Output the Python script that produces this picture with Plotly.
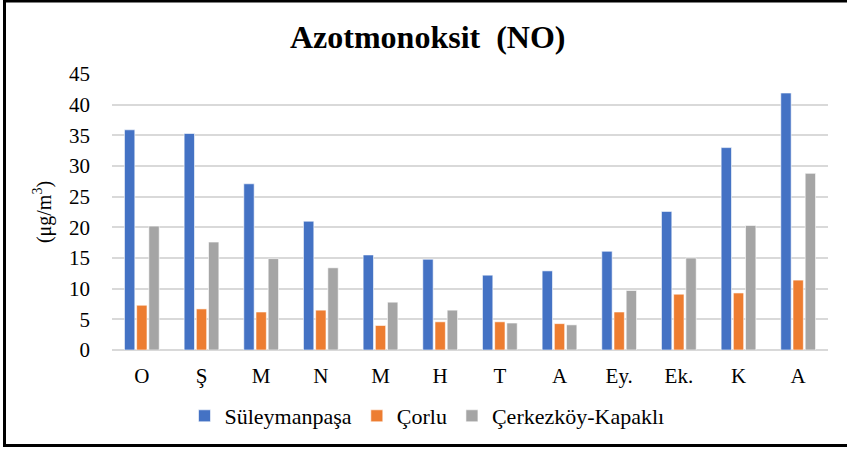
import plotly.graph_objects as go

months = ["O", "Ş", "M", "N", "M", "H", "T", "A", "Ey.", "Ek.", "K", "A"]
suleymanpasa = [35.9, 35.3, 27.1, 21.0, 15.5, 14.8, 12.2, 12.9, 16.1, 22.6, 33.0, 41.9]
corlu = [7.3, 6.7, 6.2, 6.5, 4.0, 4.6, 4.6, 4.3, 6.2, 9.1, 9.3, 11.4]
cerkezkoy = [20.2, 17.6, 14.9, 13.4, 7.8, 6.5, 4.4, 4.1, 9.7, 15.0, 20.3, 28.8]
series_names = ["Süleymanpaşa", "Çorlu", "Çerkezköy-Kapaklı"]
colors = ["#4472C4", "#ED7D31", "#A5A5A5"]

xpos = list(range(len(months)))
font = "Liberation Serif"

fig = go.Figure()
for name, vals, col in zip(series_names, [suleymanpasa, corlu, cerkezkoy], colors):
    fig.add_trace(go.Bar(x=xpos, y=vals, name=name,
                         marker=dict(color=col, line=dict(color="white", width=0.6))))

W, H = 847, 449
ml, mr, mt, mb = 112, 19, 74, 99
pw, ph = W - ml - mr, H - mt - mb

def px_x(p):
    return (p - ml) / pw

def px_y(p):
    return (H - mb - p) / ph

fig.update_layout(
    width=W, height=H,
    margin=dict(l=ml, r=mr, t=mt, b=mb),
    paper_bgcolor="white", plot_bgcolor="white",
    barmode="group", bargap=0.387, bargroupgap=0.15,
    font=dict(family=font, color="#000000"),
    title=dict(text="<b>Azotmonoksit  (NO)</b>", font=dict(family=font, size=32, color="#000000"),
               x=0.505, xref="container", xanchor="center",
               y=1 - 37 / H, yref="container", yanchor="middle"),
    xaxis=dict(range=[-0.5, len(months) - 0.5], tickmode="array", tickvals=xpos, ticktext=months,
               showgrid=False, zeroline=False, showline=False, ticks="",
               tickfont=dict(family=font, size=21, color="#000000"), ticklabelstandoff=11),
    yaxis=dict(range=[0, 45], dtick=5, showgrid=True, gridcolor="#D9D9D9", gridwidth=1.5,
               zeroline=True, zerolinecolor="#D9D9D9", zerolinewidth=1.5, showline=False, ticks="",
               tickfont=dict(family=font, size=21, color="#000000"), ticklabelstandoff=21,
               title=dict(text="(μg/m<sup>3</sup>)", font=dict(family=font, size=20, color="#000000"),
                          standoff=12)),
    legend=dict(orientation="h", x=px_x(427), xanchor="center", y=px_y(416), yanchor="middle",
                font=dict(family=font, size=22, color="#000000"), itemwidth=30,
                traceorder="normal", bgcolor="rgba(0,0,0,0)"),
    shapes=[dict(type="rect", xref="paper", yref="paper",
                 x0=px_x(4.5), x1=px_x(852), y0=px_y(445.5), y1=px_y(1),
                 line=dict(color="black", width=3), fillcolor="rgba(0,0,0,0)", layer="above")],
)

fig.write_html("out.html", config={"displayModeBar": False},
               post_script="document.body.style.margin='0';")
